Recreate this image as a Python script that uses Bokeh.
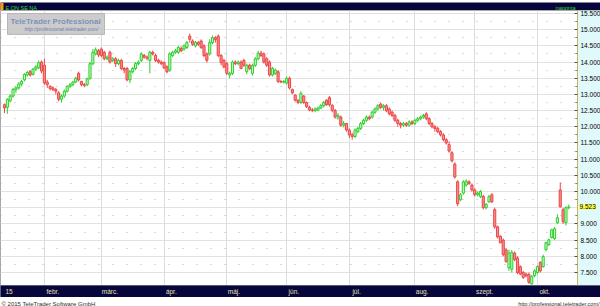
import pandas as pd
from bokeh.plotting import figure
from bokeh.models import ColumnDataSource, FixedTicker, Range1d, Label, BoxAnnotation, NumeralTickFormatter
from bokeh.layouts import column
from bokeh.embed import file_html
from bokeh.resources import INLINE
from bokeh.core.properties import value

# ---------------- data ----------------
symbol = "E.ON SE NA"
interval_label = "naponta"
copyright_text = "\u00a9 2015 TeleTrader Software GmbH"
site_url = "http://professional.teletrader.com/"
brand = "TeleTrader Professional"
first_day = "2015-01-13"
last_price = 9.523

opens = [12.68, 12.60, 12.80, 12.95, 13.15, 13.20, 13.32, 13.45, 13.60, 13.70,
         13.62, 13.78, 13.82, 14.00, 13.90, 13.38, 13.25, 13.20, 13.15, 13.05,
         12.85, 12.95, 13.10, 13.25, 13.30, 13.38, 13.65, 13.40, 13.30, 13.30,
         13.50, 13.95, 14.25, 14.35, 14.40, 14.30, 14.10, 14.30, 14.05, 14.10,
         13.95, 14.05, 13.80, 13.80, 13.45, 13.70, 13.80, 13.95, 14.05, 14.20,
         14.15, 14.05, 14.30, 14.20, 14.05, 14.00, 13.98, 13.85, 13.75, 14.20,
         14.30, 14.30, 14.42, 14.40, 14.45, 14.80, 14.65, 14.50, 14.60, 14.65,
         14.50, 14.25, 14.25, 14.60, 14.75, 14.80, 14.20, 14.05, 13.95, 13.60,
         13.65, 14.00, 13.95, 14.00, 14.05, 13.70, 13.90, 13.65, 13.90, 14.10,
         14.28, 14.25, 14.10, 14.00, 13.60, 13.65, 13.70, 13.40, 13.38, 13.35,
         13.50, 13.15, 12.98, 12.82, 12.75, 12.95, 12.75, 12.60, 12.52, 12.50,
         12.52, 12.58, 12.65, 12.82, 12.90, 12.66, 12.50, 12.30, 12.30, 12.05,
         12.10, 11.90, 11.75, 11.70, 11.85, 11.95, 12.10, 12.20, 12.30, 12.30,
         12.45, 12.55, 12.70, 12.60, 12.65, 12.55, 12.45, 12.35, 12.20, 12.10,
         12.05, 12.10, 12.05, 12.15, 12.10, 12.20, 12.25, 12.30, 12.40, 12.25,
         12.10, 12.00, 11.95, 11.85, 11.75, 11.60, 11.45, 11.20, 10.85, 10.30,
         9.75, 9.95, 10.20, 10.30, 10.20, 10.05, 9.90, 9.85, 9.85, 9.50,
         9.68, 9.90, 9.44, 8.91, 8.62, 8.50, 8.20, 7.65, 7.60, 8.10,
         7.95, 7.68, 7.50, 7.45, 7.44, 7.15, 7.40, 7.50, 7.81, 7.68,
         8.21, 8.36, 8.58, 8.55, 9.04, 10.05, 9.44, 9.04, 9.50]
highs = [12.72, 12.88, 13.00, 13.20, 13.25, 13.38, 13.45, 13.65, 13.72, 13.75,
         13.82, 13.90, 14.05, 14.05, 14.10, 13.45, 13.28, 13.25, 13.20, 13.10,
         13.00, 13.15, 13.28, 13.35, 13.42, 13.55, 13.70, 13.42, 13.35, 13.52,
         14.00, 14.40, 14.45, 14.40, 14.45, 14.35, 14.20, 14.35, 14.15, 14.15,
         14.10, 14.10, 13.85, 13.85, 13.75, 13.85, 14.00, 14.05, 14.30, 14.25,
         14.20, 14.35, 14.35, 14.25, 14.10, 14.05, 14.02, 13.90, 14.30, 14.35,
         14.40, 14.50, 14.48, 14.55, 14.65, 14.88, 14.70, 14.65, 14.65, 14.70,
         14.55, 14.30, 14.70, 14.82, 14.80, 14.85, 14.25, 14.10, 14.00, 13.70,
         14.05, 14.05, 14.05, 14.05, 14.10, 13.95, 13.95, 13.95, 14.15, 14.35,
         14.35, 14.30, 14.15, 14.05, 13.85, 13.80, 13.75, 13.45, 13.45, 13.55,
         13.55, 13.18, 13.00, 12.85, 13.10, 12.98, 12.78, 12.65, 12.58, 12.60,
         12.62, 12.70, 12.80, 12.85, 12.95, 12.70, 12.55, 12.42, 12.35, 12.18,
         12.12, 11.95, 11.82, 11.95, 12.00, 12.15, 12.25, 12.35, 12.35, 12.50,
         12.60, 12.70, 12.75, 12.70, 12.70, 12.60, 12.50, 12.40, 12.25, 12.15,
         12.15, 12.15, 12.20, 12.20, 12.25, 12.30, 12.35, 12.40, 12.45, 12.30,
         12.15, 12.05, 12.00, 11.90, 11.80, 11.65, 11.55, 11.25, 10.90, 10.35,
         9.95, 10.35, 10.38, 10.35, 10.25, 10.10, 10.00, 10.05, 9.90, 9.65,
         9.90, 9.95, 9.50, 8.95, 8.65, 8.55, 8.25, 8.20, 8.20, 8.15,
         8.00, 7.72, 7.55, 7.50, 7.50, 7.42, 7.60, 7.72, 7.85, 8.05,
         8.45, 8.55, 8.85, 8.90, 9.30, 10.28, 9.50, 9.55, 9.60]
lows = [12.42, 12.40, 12.75, 12.90, 13.05, 13.15, 13.25, 13.40, 13.55, 13.55,
        13.58, 13.72, 13.78, 13.65, 13.30, 13.20, 13.12, 13.10, 13.00, 12.78,
        12.75, 12.90, 13.05, 13.20, 13.25, 13.35, 13.40, 13.25, 13.22, 13.25,
        13.45, 13.90, 14.20, 14.15, 14.15, 14.05, 14.05, 13.95, 14.00, 13.85,
        13.90, 13.75, 13.65, 13.40, 13.35, 13.65, 13.75, 13.90, 14.00, 14.10,
        14.05, 13.65, 14.20, 14.00, 13.95, 13.90, 13.78, 13.65, 13.70, 14.15,
        14.25, 14.25, 14.30, 14.35, 14.40, 14.60, 14.50, 14.45, 14.50, 14.40,
        14.15, 13.98, 14.20, 14.55, 14.60, 14.15, 13.90, 13.80, 13.60, 13.50,
        13.60, 13.90, 13.90, 13.78, 13.85, 13.62, 13.75, 13.58, 13.85, 14.05,
        14.15, 13.95, 13.85, 13.55, 13.55, 13.60, 13.35, 13.35, 13.33, 13.30,
        13.15, 13.00, 12.78, 12.70, 12.70, 12.70, 12.58, 12.48, 12.45, 12.45,
        12.48, 12.55, 12.60, 12.65, 12.62, 12.45, 12.25, 12.22, 12.00, 11.98,
        11.85, 11.65, 11.60, 11.65, 11.80, 11.90, 12.05, 12.15, 12.20, 12.25,
        12.40, 12.50, 12.55, 12.50, 12.45, 12.35, 12.30, 12.15, 12.00, 11.95,
        12.00, 12.00, 12.00, 12.05, 12.05, 12.15, 12.20, 12.25, 12.20, 12.05,
        11.95, 11.85, 11.80, 11.70, 11.55, 11.45, 11.20, 10.90, 10.40, 9.55,
        9.70, 9.90, 10.15, 10.20, 10.00, 9.85, 9.85, 9.80, 9.45, 9.45,
        9.65, 9.65, 8.85, 8.55, 8.40, 8.00, 7.80, 7.55, 7.50, 7.85,
        7.45, 7.42, 7.30, 7.35, 7.15, 7.12, 7.35, 7.45, 7.50, 7.65,
        8.15, 8.32, 8.55, 8.50, 9.00, 9.50, 9.00, 8.95, 9.45]
closes = [12.58, 12.85, 12.95, 13.15, 13.20, 13.32, 13.40, 13.62, 13.68, 13.60,
          13.78, 13.85, 13.98, 13.72, 13.35, 13.30, 13.18, 13.15, 13.10, 12.85,
          12.95, 13.10, 13.25, 13.30, 13.38, 13.50, 13.45, 13.30, 13.28, 13.48,
          13.95, 14.30, 14.38, 14.22, 14.20, 14.10, 14.15, 14.00, 14.10, 13.95,
          14.05, 13.80, 13.75, 13.45, 13.70, 13.80, 13.95, 14.00, 14.25, 14.15,
          14.12, 14.30, 14.25, 14.05, 14.00, 13.95, 13.82, 13.70, 14.25, 14.30,
          14.35, 14.45, 14.35, 14.50, 14.60, 14.70, 14.55, 14.60, 14.55, 14.45,
          14.20, 14.05, 14.60, 14.75, 14.70, 14.20, 13.98, 13.85, 13.65, 13.65,
          14.00, 13.95, 14.00, 13.80, 13.90, 13.90, 13.80, 13.90, 14.10, 14.27,
          14.20, 14.00, 13.90, 13.60, 13.80, 13.75, 13.40, 13.38, 13.40, 13.50,
          13.20, 13.05, 12.82, 12.75, 13.03, 12.75, 12.62, 12.52, 12.50, 12.55,
          12.58, 12.65, 12.75, 12.68, 12.68, 12.51, 12.30, 12.35, 12.05, 12.10,
          11.90, 11.75, 11.70, 11.90, 11.95, 12.10, 12.20, 12.30, 12.25, 12.45,
          12.55, 12.65, 12.60, 12.65, 12.50, 12.40, 12.35, 12.20, 12.10, 12.05,
          12.10, 12.05, 12.15, 12.10, 12.20, 12.25, 12.30, 12.35, 12.25, 12.10,
          12.00, 11.95, 11.85, 11.75, 11.60, 11.50, 11.25, 10.95, 10.45, 9.62,
          9.90, 10.30, 10.32, 10.25, 10.05, 9.90, 9.95, 10.00, 9.50, 9.60,
          9.84, 9.68, 8.91, 8.60, 8.42, 8.05, 7.84, 8.10, 8.12, 7.90,
          7.50, 7.45, 7.35, 7.40, 7.20, 7.38, 7.55, 7.68, 7.55, 7.99,
          8.42, 8.51, 8.82, 8.85, 9.19, 9.53, 9.07, 9.50, 9.523]

month_names = {1: "15", 2: "febr.", 3: "m\u00e1rc.", 4: "\u00e1pr.", 5: "m\u00e1j.", 6: "j\u00fan.",
               7: "j\u00fal.", 8: "aug.", 9: "szept.", 10: "okt."}
price_ticks = [7.5, 8.0, 8.5, 9.0, 9.5, 10.0, 10.5, 11.0, 11.5, 12.0, 12.5,
               13.0, 13.5, 14.0, 14.5, 15.0, 15.5]
price_minor_ticks = [7.75, 8.25, 8.75, 9.25, 9.75, 10.25, 10.75, 11.25, 11.75,
                     12.25, 12.75, 13.25, 13.75, 14.25, 14.75, 15.25]

# ---------------- layout constants ----------------
NAVY = "#06063c"
CYAN = "#e0fafc"
FONT = "Liberation Sans"
W = 600
H_TOP, H_MAIN, H_FOOT = 10, 287, 9
BOTTOM_PANEL = 11
AXIS_PX = 577          # where the price scale begins
PX_PER_DAY = 2.85
PX_PER_UNIT = 32.5
x_start = -4 / PX_PER_DAY
x_end = x_start + W / PX_PER_DAY
y_top = 15.591
y_bottom = y_top - (H_MAIN - BOTTOM_PANEL) / PX_PER_UNIT


def px2x(px):
    return x_start + px / PX_PER_DAY


def py2y(py):
    return y_top - (py - H_TOP) / PX_PER_UNIT


# ---------------- candles ----------------
n = len(closes)
dates = pd.bdate_range(first_day, periods=n)
idx = list(range(n))
up = [c >= o for o, c in zip(opens, closes)]
src = ColumnDataSource(dict(
    i=idx, date=dates, open=opens, high=highs, low=lows, close=closes,
    top=[max(o, c) for o, c in zip(opens, closes)],
    bottom=[min(o, c) for o, c in zip(opens, closes)],
    line_c=["#2ccf2c" if u else "#ec4646" for u in up],
    fill_c=["#c8f7c2" if u else "#f59090" for u in up],
))

month_starts = [0] + [k for k in range(1, n) if dates[k].month != dates[k - 1].month]
month_labels = [month_names[dates[k].month] for k in month_starts]
label_pos = [round(k + (2 + 1.3 * len(lab)) / PX_PER_DAY, 3) for k, lab in zip(month_starts, month_labels)]

p = figure(width=W, height=H_MAIN, x_range=Range1d(x_start, x_end), y_range=Range1d(y_bottom, y_top),
           output_backend="svg", toolbar_location=None, y_axis_location="right",
           min_border_left=0, min_border_top=0, min_border_right=0,
           min_border_bottom=BOTTOM_PANEL, background_fill_color="white", border_fill_color=NAVY)
p.outline_line_color = "#a8a8a8"

# price-scale panel (light cyan strip at the right of the frame)
p.add_layout(BoxAnnotation(left=px2x(AXIS_PX), fill_color=CYAN, fill_alpha=1.0, line_color=None,
                           level="underlay"))

yax = p.yaxis[0]
xax = p.xaxis[0]
yax.fixed_location = px2x(AXIS_PX)
try:
    xax.background_fill_color = NAVY
except AttributeError:
    pass

grid_ticker = FixedTicker(ticks=price_ticks, minor_ticks=price_minor_ticks)
# the last-price tag takes the place of the nearest tick label
axis_ticks = [t for t in price_ticks if abs(t - last_price) > 0.1]
yax.ticker = FixedTicker(ticks=axis_ticks, minor_ticks=price_minor_ticks)
yax.formatter = NumeralTickFormatter(format="0.000")
yax.major_label_text_font = FONT
yax.major_label_text_font_size = "6.5px"
yax.major_label_text_color = "black"
yax.major_label_standoff = 3
yax.major_tick_in = 3
yax.major_tick_out = 0
yax.minor_tick_in = 2
yax.minor_tick_out = 0
yax.major_tick_line_color = "#505050"
yax.minor_tick_line_color = "#808080"
yax.axis_line_color = "#c8b45a"

xax.ticker = FixedTicker(ticks=label_pos)
xax.major_label_overrides = {pos: lab for pos, lab in zip(label_pos, month_labels)}
xax.major_tick_in = 0
xax.major_tick_out = 0
xax.minor_tick_in = 0
xax.minor_tick_out = 0
xax.major_tick_line_color = None
xax.minor_tick_line_color = None
xax.axis_line_color = None
xax.major_label_standoff = 2
xax.major_label_text_font = FONT
xax.major_label_text_font_size = "6.5px"
xax.major_label_text_color = "#e6e2b4"

p.ygrid.ticker = grid_ticker
p.ygrid.grid_line_color = "#e2e2e2"
p.ygrid.minor_grid_line_color = "#b4b4b4"
p.ygrid.minor_grid_line_dash = "1 13"
p.ygrid.bounds = (x_start, px2x(AXIS_PX))
p.xgrid.ticker = FixedTicker(ticks=month_starts[1:])
p.xgrid.grid_line_color = "#dcdcdc"

# watermark
p.add_layout(BoxAnnotation(left=px2x(7), right=px2x(104), top=py2y(13), bottom=py2y(34),
                           fill_color="#c6c6c6", fill_alpha=0.9, line_color="#b6b6b6", line_alpha=1.0))
p.add_layout(Label(x=px2x(10), y=py2y(21), text=brand, text_font=FONT, text_font_style="bold",
                   text_font_size="8px", text_color="#7f90b9", text_baseline="middle"))
p.add_layout(Label(x=px2x(98), y=py2y(29), text=site_url, text_font=FONT, text_font_style="italic",
                   text_font_size="5px", text_color="#6f80ae", text_baseline="middle", text_align="right"))

p.segment(x0="i", y0="high", x1="i", y1="low", line_color="line_c", line_width=1, source=src)
p.vbar(x="i", width=0.75, top="top", bottom="bottom", fill_color="fill_c", line_color="line_c",
       line_width=1, source=src)

# last price tag on the price scale
p.add_layout(Label(x=px2x(AXIS_PX), y=last_price, x_offset=2, text=f"{last_price:.3f}", text_font=FONT,
                   text_font_size="6.5px", text_baseline="middle", text_color="black",
                   background_fill_color="#ffff3c", background_fill_alpha=1.0, level="overlay"))

# ---------------- top bar ----------------
top = figure(width=W, height=H_TOP, x_range=Range1d(0, W), y_range=Range1d(0, H_TOP),
             output_backend="svg", toolbar_location=None, x_axis_location=None, y_axis_location=None,
             min_border=0, background_fill_color=NAVY, border_fill_color=NAVY)
top.grid.visible = False
top.outline_line_color = None
top.quad(left=[0], right=[3], bottom=[0], top=[H_TOP], fill_color="#ff9c00", line_color=None)
top.text(x=[5], y=[H_TOP / 2], text=[symbol], text_font=value(FONT), text_font_size="5.5px",
         text_color="#36d836", text_baseline="middle")
top.text(x=[AXIS_PX - 2], y=[H_TOP / 2], text=[interval_label], text_font=value(FONT),
         text_font_size="5.5px", text_color="#36d836", text_baseline="middle", text_align="right")

# ---------------- footer ----------------
foot = figure(width=W, height=H_FOOT, x_range=Range1d(0, W), y_range=Range1d(0, H_FOOT),
              output_backend="svg", toolbar_location=None, x_axis_location=None, y_axis_location=None,
              min_border=0, background_fill_color="white", border_fill_color="white")
foot.grid.visible = False
foot.outline_line_color = None
foot.text(x=[1], y=[H_FOOT - 0.5], text=[copyright_text], text_font=value(FONT), text_font_size="6px",
          text_color="#303030", text_baseline="top")
foot.text(x=[W - 1], y=[H_FOOT - 0.5], text=[site_url], text_font=value(FONT), text_font_size="5.5px",
          text_color="#303030", text_baseline="top", text_align="right")

layout = column(top, p, foot, spacing=0)
open("out.html", "w").write(file_html(layout, INLINE))
